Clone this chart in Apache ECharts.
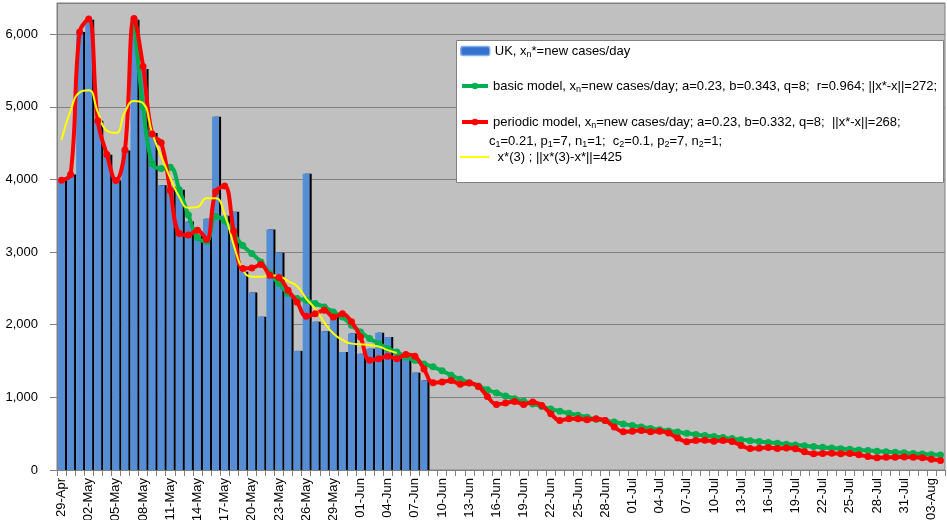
<!DOCTYPE html>
<html>
<head>
<meta charset="utf-8">
<script src="https://cdn.jsdelivr.net/npm/echarts@6/dist/echarts.min.js"></script>
<style>
  html, body { margin: 0; padding: 0; background: #fff; }
  #chart { width: 947px; height: 520px; }
</style>
</head>
<body>
<div id="chart"></div>
<script>
// Day labels on the category axis
const dates = [
  '29-Apr','30-Apr',
  '01-May','02-May','03-May','04-May','05-May','06-May','07-May','08-May','09-May','10-May',
  '11-May','12-May','13-May','14-May','15-May','16-May','17-May','18-May','19-May','20-May',
  '21-May','22-May','23-May','24-May','25-May','26-May','27-May','28-May','29-May','30-May','31-May',
  '01-Jun','02-Jun','03-Jun','04-Jun','05-Jun','06-Jun','07-Jun','08-Jun','09-Jun','10-Jun',
  '11-Jun','12-Jun','13-Jun','14-Jun','15-Jun','16-Jun','17-Jun','18-Jun','19-Jun','20-Jun',
  '21-Jun','22-Jun','23-Jun','24-Jun','25-Jun','26-Jun','27-Jun','28-Jun','29-Jun','30-Jun',
  '01-Jul','02-Jul','03-Jul','04-Jul','05-Jul','06-Jul','07-Jul','08-Jul','09-Jul','10-Jul',
  '11-Jul','12-Jul','13-Jul','14-Jul','15-Jul','16-Jul','17-Jul','18-Jul','19-Jul','20-Jul',
  '21-Jul','22-Jul','23-Jul','24-Jul','25-Jul','26-Jul','27-Jul','28-Jul','29-Jul','30-Jul','31-Jul',
  '01-Aug','02-Aug','03-Aug','04-Aug'
];

// UK, observed new cases per day
const ukCases = [
  3990, 4070, 6030, 6200, 4810, 4340, 3985, 4400, 6200, 5520,
  4640, 3920, 3900, 3860, 3420, 3240, 3460, 4865, 3500, 3555,
  2730, 2445, 2110, 3310, 2990, 2400, 1640, 4080, 2040, 1910,
  2105, 1625, 1880, 1600, 1670, 1890, 1830, 1610, 1555, 1340,
  1235
];

// basic model (starts on 07-May)
const basicModel = [
  null, null, null, null, null, null, null, null,
  6200, 5000,
  4220, 4150, 4170, 3860, 3510, 3200, 3150, 3490, 3430, 3250,
  3090, 2980, 2865, 2705, 2567, 2430, 2360, 2337, 2291, 2245,
  2176, 2107, 1992, 1900, 1809, 1740, 1671, 1624, 1556, 1510,
  1460, 1420, 1365, 1305, 1250, 1200, 1155, 1105, 1060, 1020,
  980, 945, 910, 875, 840, 810, 780, 755, 725, 700,
  680, 660, 635, 612, 592, 572, 555, 538, 522, 505,
  490, 475, 460, 446, 432, 418, 404, 392, 380, 368,
  356, 345, 334, 323, 313, 303, 294, 285, 276, 268,
  259, 251, 243, 236, 228, 221, 214, 207
];

// periodic model
const periodicModel = [
  3990, 4070, 6030, 6210, 4810, 4345, 3985, 4405, 6215, 5555,
  4625, 4505, 3850, 3255, 3235, 3300, 3175, 3830, 3910, 3290,
  2775, 2780, 2830, 2680, 2650, 2475, 2310, 2116, 2150, 2200,
  2107, 2150, 2040, 1830, 1510, 1533, 1565, 1533, 1590, 1565,
  1390, 1200, 1211, 1234, 1180, 1197, 1151, 1013, 903, 921,
  944, 903, 935, 889, 775, 682, 706, 706, 692, 706,
  682, 591, 525, 535, 545, 525, 535, 508, 440, 390,
  407, 410, 395, 407, 393, 338, 296, 300, 310, 296,
  303, 292, 250, 223, 228, 232, 225, 228, 210, 185,
  170, 177, 177, 180, 177, 168, 148, 131
];

// x*(3) smoothed observations
const smoothed3 = [
  4545, 4950, 5200, 5230, 4930, 4670, 4640, 4930, 5080, 5050,
  4640, 4320, 4020, 3760, 3610, 3620, 3740, 3740, 3520, 3100,
  2760, 2660, 2660, 2680, 2670, 2600, 2530, 2360, 2220, 2030,
  1880, 1790, 1740, 1730, 1720, 1700, 1650, 1610
];

const yMax = 6430;
const yStep = 1000;

const FONT = '"Liberation Sans", Arial, Helvetica, sans-serif';
const SUB = { fontSize: 9, lineHeight: 9, verticalAlign: 'bottom', fontFamily: FONT, color: '#000' };

const legendLabels = {
  'UK': 'UK, x{sub|n}*=new cases/day',
  'basic': 'basic model, x{sub|n}=new cases/day; a=0.23, b=0.343, q=8;  r=0.964; ||x*-x||=272;',
  'periodic': 'periodic model, x{sub|n}=new cases/day; a=0.23, b=0.332, q=8;  ||x*-x||=268;',
  'x3': ' x*(3) ; ||x*(3)-x*||=425'
};
const periodicParams = 'c{sub|1}=0.21, p{sub|1}=7, n{sub|1}=1;  c{sub|2}=0.1, p{sub|2}=7, n{sub|2}=1;';

function legendRow(name, top, w, h, extra) {
  return Object.assign({
    data: [name],
    left: 460,
    top: top,
    orient: 'vertical',
    padding: 0,
    itemWidth: w,
    itemHeight: h,
    selectedMode: false,
    z: 6,
    formatter: n => legendLabels[n],
    textStyle: {
      fontFamily: FONT, fontSize: 13, color: '#000', lineHeight: 16,
      rich: { sub: SUB }
    }
  }, extra || {});
}

const chart = echarts.init(document.getElementById('chart'), null, { renderer: 'canvas' });

chart.setOption({
  animation: false,
  backgroundColor: '#fff',
  textStyle: { fontFamily: FONT },
  grid: {
    left: 57, right: 2, top: 3, bottom: 50,
    containLabel: false, outerBoundsMode: 'none',
    show: true, backgroundColor: '#C0C0C0', borderColor: '#808080', borderWidth: 1
  },
  xAxis: {
    type: 'category',
    data: dates,
    boundaryGap: true,
    axisLine: { show: true, lineStyle: { color: '#808080', width: 1 } },
    axisTick: { show: true, interval: 0, length: 6, lineStyle: { color: '#808080' } },
    axisLabel: {
      interval: 2, rotate: 90, margin: 8,
      fontFamily: FONT, fontSize: 13, color: '#000'
    },
    splitLine: { show: false }
  },
  yAxis: {
    type: 'value',
    min: 0, max: yMax, interval: yStep,
    axisLine: { show: true, lineStyle: { color: '#808080' } },
    axisTick: { show: true, length: 7, lineStyle: { color: '#808080' } },
    axisLabel: {
      margin: 19, fontFamily: FONT, fontSize: 13, color: '#000',
      showMaxLabel: false,
      formatter: v => v.toLocaleString('en-US')
    },
    splitLine: { show: true, lineStyle: { color: '#808080', width: 1 } }
  },
  legend: [
    legendRow('UK', 43, 29, 9, {
      icon: 'roundRect',
      itemStyle: {
        color: '#3572CF', borderColor: '#86AEE8', borderWidth: 1.5,
        shadowBlur: 0, shadowOffsetX: 0, shadowOffsetY: 0, shadowColor: 'rgba(0,0,0,0)'
      }
    }),
    legendRow('basic', 78, 26, 8, { lineStyle: { width: 4 } }),
    legendRow('periodic', 114, 26, 8, { lineStyle: { width: 4 } }),
    legendRow('x3', 149, 29, 2, {
      icon: 'rect',
      itemStyle: { color: '#FFFF00', borderWidth: 0 }
    })
  ],
  graphic: [
    {
      type: 'rect', z: 5,
      shape: { x: 456.5, y: 40.5, width: 487, height: 142 },
      style: { fill: '#fff', stroke: '#808080', lineWidth: 1 }
    },
    {
      type: 'text', z: 7, left: 489, top: 133,
      style: {
        text: periodicParams,
        fontFamily: FONT, fontSize: 13, lineHeight: 16, fill: '#000',
        rich: { sub: { fontSize: 9, lineHeight: 9, verticalAlign: 'bottom', fontFamily: FONT, fill: '#000' } }
      }
    }
  ],
  series: [
    {
      name: 'UK',
      type: 'bar',
      data: ukCases,
      barWidth: 7,
      z: 2,
      itemStyle: {
        color: '#558ED5',
        shadowColor: '#000', shadowBlur: 0, shadowOffsetX: 2, shadowOffsetY: 0
      }
    },
    {
      name: 'basic',
      type: 'line',
      data: basicModel,
      smooth: 0.4,
      symbol: 'circle', symbolSize: 7,
      showSymbol: true, showAllSymbol: true,
      z: 3,
      itemStyle: { color: '#00B050' },
      lineStyle: { color: '#00B050', width: 4 }
    },
    {
      name: 'periodic',
      type: 'line',
      data: periodicModel,
      smooth: 0.4,
      symbol: 'circle', symbolSize: 7,
      showSymbol: true, showAllSymbol: true,
      z: 4,
      itemStyle: { color: '#FF0000' },
      lineStyle: { color: '#FF0000', width: 4 }
    },
    {
      name: 'x3',
      type: 'line',
      data: smoothed3,
      smooth: 0.5,
      showSymbol: false, symbol: 'none',
      z: 4,
      itemStyle: { color: '#FFFF00' },
      lineStyle: { color: '#FFFF00', width: 2 }
    }
  ]
});
</script>
</body>
</html>
